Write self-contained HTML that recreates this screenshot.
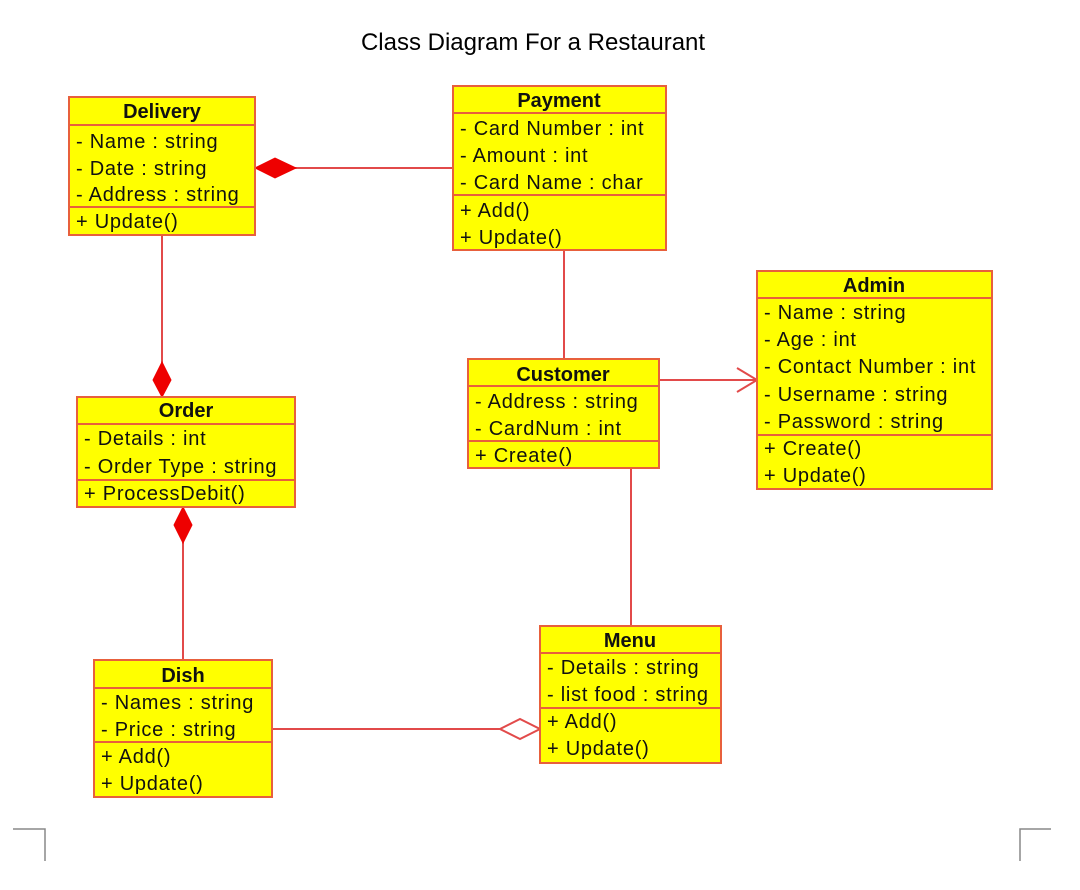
<!DOCTYPE html>
<html><head><meta charset="utf-8"><style>
html,body{margin:0;padding:0;background:#fff;}
svg{display:block;}
text{font-family:"Liberation Sans",Arial,sans-serif;fill:#111;}
.t{font-weight:bold;font-size:20px;text-anchor:middle;}
.a{font-size:20px;letter-spacing:0.75px;}
.b{fill:#ffff00;stroke:#e8603c;stroke-width:2;}
.l{stroke:#e8603c;stroke-width:2;}
.c{stroke:#e24a4a;stroke-width:2;fill:none;}
</style></head><body>
<svg width="1080" height="890" viewBox="0 0 1080 890" xmlns="http://www.w3.org/2000/svg">
<text x="533" y="50" style="font-size:24px;text-anchor:middle;fill:#000">Class Diagram For a Restaurant</text>

<line class="c" x1="255" y1="168" x2="453" y2="168"/>
<polygon points="255,168 275,158 296,168 275,178" fill="#ee0000" stroke="#ee0000"/>
<line class="c" x1="162" y1="235" x2="162" y2="397"/>
<polygon points="162,397 153,380 162,362 171,380" fill="#ee0000" stroke="#ee0000"/>
<line class="c" x1="183" y1="507" x2="183" y2="660"/>
<polygon points="183,507 192,525 183,543 174,525" fill="#ee0000" stroke="#ee0000"/>
<line class="c" x1="564" y1="250" x2="564" y2="359"/>
<line class="c" x1="659" y1="380" x2="757" y2="380"/>
<polyline class="c" points="737,368 757,380 737,392"/>
<line class="c" x1="631" y1="468" x2="631" y2="626"/>
<line class="c" x1="272" y1="729" x2="500" y2="729"/>
<polygon points="500,729 520,719 540,729 520,739" fill="#fff" stroke="#e24a4a" stroke-width="2"/>

<rect class="b" x="69" y="97" width="186" height="138"/>
<line class="l" x1="69" y1="125" x2="255" y2="125"/><line class="l" x1="69" y1="207" x2="255" y2="207"/>
<text class="t" x="162" y="118">Delivery</text>
<text class="a" x="76" y="148">- Name : string</text>
<text class="a" x="76" y="175">- Date : string</text>
<text class="a" x="76" y="201">- Address : string</text>
<text class="a" x="76" y="228">+ Update()</text>

<rect class="b" x="453" y="86" width="213" height="164"/>
<line class="l" x1="453" y1="113" x2="666" y2="113"/><line class="l" x1="453" y1="195" x2="666" y2="195"/>
<text class="t" x="559" y="107">Payment</text>
<text class="a" x="460" y="135">- Card Number : int</text>
<text class="a" x="460" y="162">- Amount : int</text>
<text class="a" x="460" y="189">- Card Name  : char</text>
<text class="a" x="460" y="217">+ Add()</text>
<text class="a" x="460" y="244">+ Update()</text>

<rect class="b" x="468" y="359" width="191" height="109"/>
<line class="l" x1="468" y1="386" x2="659" y2="386"/><line class="l" x1="468" y1="441" x2="659" y2="441"/>
<text class="t" x="563" y="381">Customer</text>
<text class="a" x="475" y="408">- Address  : string</text>
<text class="a" x="475" y="435">- CardNum : int</text>
<text class="a" x="475" y="462">+ Create()</text>

<rect class="b" x="757" y="271" width="235" height="218"/>
<line class="l" x1="757" y1="298" x2="992" y2="298"/><line class="l" x1="757" y1="435" x2="992" y2="435"/>
<text class="t" x="874" y="292">Admin</text>
<text class="a" x="764" y="319">- Name : string</text>
<text class="a" x="764" y="346">- Age : int</text>
<text class="a" x="764" y="373">- Contact Number : int</text>
<text class="a" x="764" y="401">- Username : string</text>
<text class="a" x="764" y="428">- Password : string</text>
<text class="a" x="764" y="455">+ Create()</text>
<text class="a" x="764" y="482">+ Update()</text>

<rect class="b" x="77" y="397" width="218" height="110"/>
<line class="l" x1="77" y1="424" x2="295" y2="424"/><line class="l" x1="77" y1="480" x2="295" y2="480"/>
<text class="t" x="186" y="417">Order</text>
<text class="a" x="84" y="445">- Details : int</text>
<text class="a" x="84" y="473">- Order Type  : string</text>
<text class="a" x="84" y="500">+ ProcessDebit()</text>

<rect class="b" x="94" y="660" width="178" height="137"/>
<line class="l" x1="94" y1="688" x2="272" y2="688"/><line class="l" x1="94" y1="742" x2="272" y2="742"/>
<text class="t" x="183" y="682">Dish</text>
<text class="a" x="101" y="709">- Names : string</text>
<text class="a" x="101" y="736">- Price : string</text>
<text class="a" x="101" y="763">+ Add()</text>
<text class="a" x="101" y="790">+ Update()</text>

<rect class="b" x="540" y="626" width="181" height="137"/>
<line class="l" x1="540" y1="653" x2="721" y2="653"/><line class="l" x1="540" y1="708" x2="721" y2="708"/>
<text class="t" x="630" y="647">Menu</text>
<text class="a" x="547" y="674">- Details : string</text>
<text class="a" x="547" y="701">- list food : string</text>
<text class="a" x="547" y="728">+ Add()</text>
<text class="a" x="547" y="755">+ Update()</text>

<polyline points="13,829 45,829 45,861" fill="none" stroke="#888" stroke-width="1.5"/>
<polyline points="1051,829 1020,829 1020,861" fill="none" stroke="#888" stroke-width="1.5"/>
</svg>
</body></html>
